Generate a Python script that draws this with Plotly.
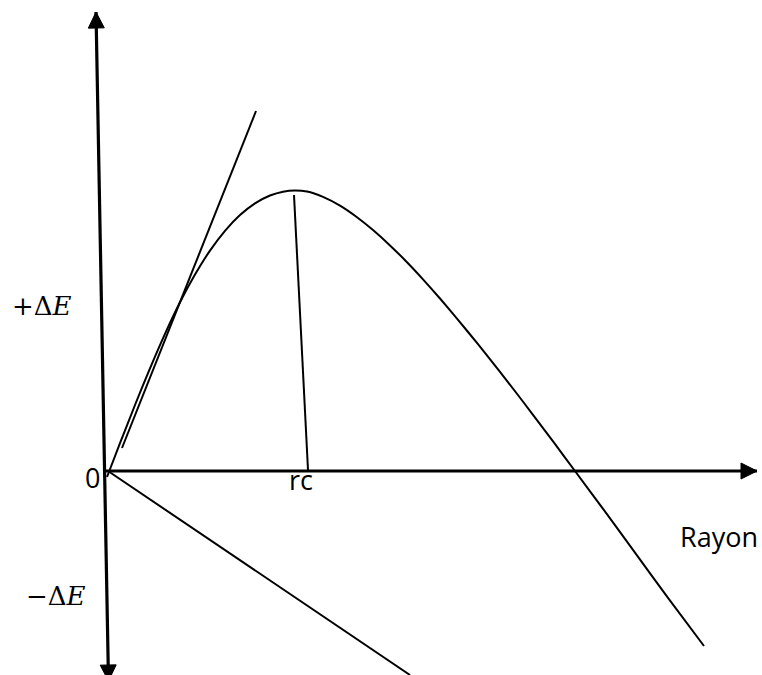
import numpy as np
import plotly.graph_objects as go

# Free-energy curve of a nucleus versus its radius (arbitrary units)
rayon = [0.00, 0.26, 0.56, 0.86, 1.16, 1.46, 1.76, 2.06, 2.36, 2.66, 2.96,
         3.26, 3.52, 3.76, 4.00, 4.32, 4.66, 5.00, 5.32, 5.66, 6.00, 6.32,
         6.66, 7.00, 7.42, 7.86, 8.18, 8.52, 8.94, 9.36, 9.94, 10.52, 11.22,
         11.94]
delta_e = [-0.12, 0.556, 1.32, 2.054, 2.744, 3.374, 3.928, 4.408, 4.804,
           5.119, 5.353, 5.509, 5.587, 5.611, 5.59, 5.482, 5.306, 5.074,
           4.818, 4.512, 4.176, 3.834, 3.45, 3.048, 2.536, 1.982, 1.57,
           1.124, 0.566, 0.00, -0.784, -1.578, -2.538, -3.50]

# Surface term (tangent at small radii), volume term, and critical radius
tangente_x = [0.30, 2.98]
tangente_y = [0.46, 7.20]
volume_x = [0.02, 6.06]
volume_y = [0.00, -4.08]
rc_x = [3.74, 4.02]
rc_y = [5.52, 0.02]

# Axis end points
axe_y_x = [0.03, -0.22]
axe_y_y = [-4.20, 9.18]
axe_x_x = [-0.04, 13.00]
axe_x_y = [0.00, 0.00]

X_RANGE = [-2.14, 13.10]
Y_RANGE = [-4.08, 9.42]

INK = "#000000"


def arrow_head(tip, tail, length=0.32, half_width=0.16):
    tip = np.array(tip, dtype=float)
    tail = np.array(tail, dtype=float)
    d = tip - tail
    d /= np.linalg.norm(d)
    n = np.array([-d[1], d[0]])
    base = tip - d * length
    p1 = base + n * half_width
    p2 = base - n * half_width
    return [tip[0], p1[0], p2[0], tip[0]], [tip[1], p1[1], p2[1], tip[1]]


fig = go.Figure()


def add_line(xs, ys, width):
    fig.add_trace(go.Scatter(x=xs, y=ys, mode="lines",
                             line=dict(color=INK, width=width),
                             hoverinfo="skip", showlegend=False))


# Axes
add_line(axe_y_x, axe_y_y, 3.2)
add_line(axe_x_x, axe_x_y, 3.2)
for tip, tail in [((axe_y_x[1], axe_y_y[1]), (axe_y_x[0], axe_y_y[0])),
                  ((axe_y_x[0], axe_y_y[0]), (axe_y_x[1], axe_y_y[1])),
                  ((axe_x_x[1], axe_x_y[1]), (axe_x_x[0], axe_x_y[0]))]:
    hx, hy = arrow_head(tip, tail)
    fig.add_trace(go.Scatter(x=hx, y=hy, mode="lines", fill="toself",
                             fillcolor=INK, line=dict(color=INK, width=1),
                             hoverinfo="skip", showlegend=False))

# Curves
fig.add_trace(go.Scatter(x=rayon, y=delta_e, mode="lines",
                         line=dict(color=INK, width=2, shape="spline", smoothing=0.6),
                         hoverinfo="skip", showlegend=False))
add_line(tangente_x, tangente_y, 2)
add_line(volume_x, volume_y, 2)
add_line(rc_x, rc_y, 2)

sans = dict(family="Open Sans", size=27, color=INK)
serif = dict(family="DejaVu Serif", size=26, color=INK)

labels = [
    ("0", -0.30, -0.12, sans),
    ("rc", 3.88, -0.16, sans),
    ("Rayon", 12.24, -1.30, sans),
    ("+Δ<i>E</i>", -1.30, 3.30, serif),
    ("−Δ<i>E</i>", -1.02, -2.50, serif),
]
for text, x, y, font in labels:
    fig.add_annotation(x=x, y=y, text=text, showarrow=False, font=font,
                       xanchor="center", yanchor="middle")

fig.update_layout(
    width=762, height=675,
    margin=dict(l=0, r=0, t=0, b=0),
    paper_bgcolor="white", plot_bgcolor="white",
    xaxis=dict(range=X_RANGE, visible=False, fixedrange=True),
    yaxis=dict(range=Y_RANGE, visible=False, fixedrange=True),
)

fig.write_html("out.html")
